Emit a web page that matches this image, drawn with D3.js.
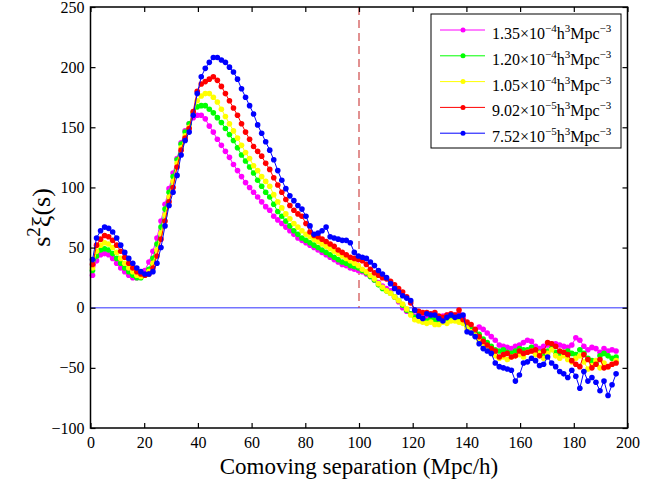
<!DOCTYPE html>
<html>
<head>
<meta charset="utf-8">
<script src="https://cdnjs.cloudflare.com/ajax/libs/d3/7.8.5/d3.min.js"></script>
<style>
    body { margin: 0; background: #fff; }
    text { font-family: "Liberation Serif", "Times New Roman", serif; fill: #000; }
</style>
</head>
<body>
<div id="chart"></div>
<script>
// separation bins (Mpc/h), 1.5 Mpc/h wide
var sep = d3.range(0.75, 196.5, 1.5);

// s^2 xi(s) for each number density
var xi135 = [
    27, 39, 44, 45, 44, 41, 37, 33, 30, 27,
    25, 25, 27, 31, 38, 47, 58, 72, 86, 99,
    112, 124, 137, 147, 153, 158, 160, 160, 157, 151,
    146, 140, 135, 130, 125, 119, 114, 109, 104, 100,
    96, 92, 88, 84, 81, 76, 73, 70, 67, 64,
    61, 58, 56, 54, 52, 50, 48, 46, 44, 42,
    40, 38, 36, 35, 33, 32, 31, 30, 28, 26,
    23, 21, 18, 16, 14, 9, 5, 0, -3, -5,
    -7, -7, -8, -8, -7, -6, -8, -7, -6, -7,
    -6, -5, -8, -14, -18, -21, -16, -18, -21, -24,
    -27, -31, -32, -33, -34, -32, -31, -29, -27, -28,
    -32, -34, -32, -31, -30, -30, -31, -32, -33, -31,
    -25, -27, -32, -35, -33, -34, -37, -34, -36, -35,
    -36
];
var xi120 = [
    31, 43, 48, 49, 48, 45, 41, 37, 33, 30,
    27, 25, 25, 27, 32, 41, 53, 67, 82, 96,
    109, 123, 136, 146, 153, 162, 167, 168, 168, 165,
    162, 158, 154, 149, 144, 139, 133, 127, 122, 117,
    112, 106, 101, 96, 92, 86, 80, 76, 72, 68,
    64, 61, 58, 56, 54, 52, 50, 48, 46, 44,
    42, 40, 38, 37, 35, 34, 33, 31, 29, 26,
    23, 19, 16, 14, 12, 9, 6, 2, -2, -5,
    -8, -9, -10, -11, -9, -10, -11, -9, -10, -9,
    -8, -9, -11, -15, -17, -19, -22, -26, -29, -32,
    -35, -36, -35, -37, -38, -36, -34, -35, -35, -33,
    -36, -37, -39, -36, -34, -37, -38, -37, -36, -38,
    -39, -35, -38, -42, -44, -46, -40, -38, -40, -42,
    -41
];
var xi105 = [
    33, 47, 52, 54, 53, 50, 46, 41, 37, 33,
    30, 27, 26, 27, 30, 37, 48, 62, 77, 92,
    105, 120, 133, 143, 150, 162, 172, 176, 178, 178,
    175, 171, 165, 159, 153, 147, 141, 135, 129, 124,
    118, 114, 109, 105, 101, 94, 88, 83, 78, 74,
    70, 67, 64, 61, 59, 57, 55, 53, 51, 49,
    47, 45, 43, 41, 39, 37, 35, 32, 30, 27,
    24, 20, 17, 14, 12, 9, 6, 3, -1, -6,
    -10, -11, -12, -13, -12, -14, -14, -12, -13, -11,
    -11, -12, -13, -17, -20, -23, -27, -30, -34, -37,
    -40, -42, -41, -43, -41, -40, -39, -41, -37, -36,
    -39, -38, -42, -38, -35, -40, -42, -40, -43, -45,
    -42, -40, -45, -51, -48, -44, -50, -46, -49, -47,
    -44
];
var xi902 = [
    36, 52, 57, 60, 59, 56, 52, 47, 42, 37,
    33, 30, 28, 27, 28, 33, 43, 57, 72, 88,
    100, 117, 131, 141, 149, 163, 180, 186, 188, 190,
    192, 189, 184, 178, 172, 166, 160, 153, 146, 140,
    134, 130, 126, 120, 115, 108, 102, 96, 90, 85,
    81, 78, 76, 70, 63, 60, 59, 57, 55, 53,
    51, 48, 46, 44, 42, 41, 40, 39, 36, 32,
    29, 27, 25, 24, 22, 19, 16, 13, 9, 4,
    -2, -3, -4, -4, -5, -4, -7, -8, -6, -5,
    -6, -2, -10, -12, -14, -18, -24, -28, -31, -34,
    -36, -41, -39, -38, -41, -40, -36, -38, -37, -36,
    -35, -40, -36, -29, -30, -32, -36, -37, -39, -44,
    -47, -49, -39, -43, -50, -47, -43, -50, -49, -47,
    -46
];
var xi752 = [
    40, 58, 64, 67, 66, 63, 58, 52, 46, 41,
    37, 33, 30, 28, 28, 30, 37, 50, 68, 85,
    96, 110, 127, 139, 146, 160, 178, 192, 199, 204,
    208, 208, 206, 204, 200, 196, 190, 182, 175, 168,
    161, 152, 145, 138, 131, 123, 114, 106, 99, 93,
    89, 85, 82, 76, 68, 61, 62, 64, 67, 59,
    58, 57, 56, 56, 54, 46, 43, 42, 41, 38,
    35, 31, 28, 25, 20, 16, 13, 10, 8, 6,
    -2, -7, -9, -5, -6, -6, -9, -11, -8, -6,
    -8, -7, -6, -20, -21, -24, -30, -34, -36, -38,
    -46, -49, -50, -51, -52, -61, -56, -46, -45, -42,
    -44, -48, -47, -41, -46, -49, -53, -55, -58, -52,
    -57, -67, -53, -61, -58, -62, -69, -61, -73, -64,
    -55
];

// legend text pieces and colours
var mantissas = ["1.35", "1.20", "1.05", "9.02", "7.52"];
var exponents = ["\u22124", "\u22124", "\u22124", "\u22125", "\u22125"];
var colors = ["#ff00ff", "#00ff00", "#ffff00", "#ff0000", "#0000ff"];

// ticks
var xTicks = [0, 20, 40, 60, 80, 100, 120, 140, 160, 180, 200];
var yTicks = [-100, -50, 0, 50, 100, 150, 200, 250];

(function() {
    var width = 657,
        height = 480;

    var svg = d3.select("#chart")
        .append("svg")
        .attr("width", width)
        .attr("height", height)
        .style("background", "#fff");

    var x = d3.scaleLinear().domain([0, 200]).range([90.5, 627.5]);
    var y = d3.scaleLinear().domain([-100, 250]).range([428, 7]);

    var series = [xi135, xi120, xi105, xi902, xi752].map(function(vals, i) {
        return { values: vals, color: colors[i], mant: mantissas[i], exp: exponents[i] };
    });

    //reference lines: zero line and dashed line at 100 Mpc/h
    svg.append("line")
        .attr("x1", x(0)).attr("x2", x(200))
        .attr("y1", y(0)).attr("y2", y(0))
        .attr("stroke", "#7474ff")
        .attr("stroke-width", 1.5);

    svg.append("line")
        .attr("x1", x(100)).attr("x2", x(100))
        .attr("y1", y(250)).attr("y2", y(0))
        .attr("stroke", "#c42222")
        .attr("stroke-width", 1)
        .attr("stroke-dasharray", "8,5");

    //curves with dots
    var line = d3.line()
        .x(function(d, i) { return x(sep[i]) })
        .y(function(d) { return y(d) });

    var groups = svg.selectAll(".series")
        .data(series)
        .enter().append("g")
        .attr("class", "series");

    groups.append("path")
        .attr("d", function(d) { return line(d.values) })
        .attr("fill", "none")
        .attr("stroke", function(d) { return d.color })
        .attr("stroke-width", 1);

    groups.selectAll("circle")
        .data(function(d) { return d.values.map(function(v, i) { return { v: v, s: sep[i], c: d.color } }) })
        .enter().append("circle")
        .attr("cx", function(d) { return x(d.s) })
        .attr("cy", function(d) { return y(d.v) })
        .attr("r", 2.8)
        .attr("fill", function(d) { return d.c });

    //axes, ticks pointing inward on all four sides
    var bottom = svg.append("g")
        .attr("transform", "translate(0," + y(-100) + ")")
        .call(d3.axisBottom(x).tickValues(xTicks).tickSizeInner(-5).tickSizeOuter(0).tickPadding(8.5));
    var top = svg.append("g")
        .attr("transform", "translate(0," + y(250) + ")")
        .call(d3.axisTop(x).tickValues(xTicks).tickSizeInner(-5).tickSizeOuter(0).tickFormat(""));
    var left = svg.append("g")
        .attr("transform", "translate(" + x(0) + ",0)")
        .call(d3.axisLeft(y).tickValues(yTicks).tickSizeInner(-5).tickSizeOuter(0).tickPadding(6)
            .tickFormat(function(d) { return d < 0 ? "\u2212" + (-d) : d }));
    var right = svg.append("g")
        .attr("transform", "translate(" + x(200) + ",0)")
        .call(d3.axisRight(y).tickValues(yTicks).tickSizeInner(-5).tickSizeOuter(0).tickFormat(""));

    [bottom, top, left, right].forEach(function(g) {
        g.select(".domain").remove();
        g.selectAll("line").attr("stroke", "#000").attr("stroke-width", 1.2);
        g.selectAll("text").attr("font-size", 16)
            .attr("font-family", "'Liberation Serif', 'Times New Roman', serif");
    });

    svg.append("rect")
        .attr("x", x(0)).attr("y", y(250))
        .attr("width", x(200) - x(0))
        .attr("height", y(-100) - y(250))
        .attr("fill", "none")
        .attr("stroke", "#000")
        .attr("stroke-width", 1.5);

    //axis labels
    svg.append("text")
        .attr("x", (x(0) + x(200)) / 2)
        .attr("y", 474)
        .attr("text-anchor", "middle")
        .attr("font-size", 23)
        .text("Comoving separation (Mpc/h)");

    var ylab = svg.append("text")
        .attr("transform", "translate(50," + ((y(250) + y(-100)) / 2) + ") rotate(-90)")
        .attr("text-anchor", "middle")
        .attr("font-size", 26);
    ylab.append("tspan").text("s");
    ylab.append("tspan").attr("font-size", 19).attr("dy", -10).text("2");
    ylab.append("tspan").attr("dy", 10).text("\u03be(s)");

    //legend
    var legend = svg.append("g")
        .attr("transform", "translate(431,14)");

    legend.append("rect")
        .attr("width", 190)
        .attr("height", 134)
        .attr("fill", "#fff")
        .attr("stroke", "#000")
        .attr("stroke-width", 1);

    var items = legend.selectAll(".item")
        .data(series)
        .enter().append("g")
        .attr("class", "item")
        .attr("transform", function(d, i) { return "translate(0," + (16 + i * 25.8) + ")" });

    items.append("line")
        .attr("x1", 9).attr("x2", 54)
        .attr("stroke", function(d) { return d.color })
        .attr("stroke-width", 1);

    items.append("circle")
        .attr("cx", 32)
        .attr("r", 2.5)
        .attr("fill", function(d) { return d.color });

    var label = items.append("text")
        .attr("x", 61)
        .attr("y", 9)
        .attr("font-size", 16);
    label.append("tspan").text(function(d) { return d.mant + "\u00d710" });
    label.append("tspan").attr("font-size", 11).attr("dy", -7).text(function(d) { return d.exp });
    label.append("tspan").attr("dy", 7).text("h");
    label.append("tspan").attr("font-size", 11).attr("dy", -7).text("3");
    label.append("tspan").attr("dy", 7).text("Mpc");
    label.append("tspan").attr("font-size", 11).attr("dy", -7).text("\u22123");
})();
</script>
</body>
</html>
